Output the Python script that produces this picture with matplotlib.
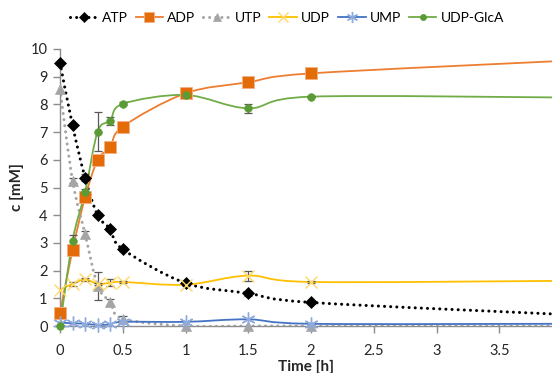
import matplotlib
matplotlib.use("Agg")
import matplotlib.pyplot as plt
import numpy as np
from matplotlib.path import Path
from matplotlib.patches import PathPatch
from matplotlib.lines import Line2D

plt.rcParams['font.family'] = ['Lato', 'DejaVu Sans']

time_h = [0, 0.1, 0.2, 0.3, 0.4, 0.5, 1, 1.5, 2, 4]
ATP = [9.5, 7.24, 5.35, 4.0, 3.5, 2.77, 1.55, 1.18, 0.85, 0.42]
ADP = [0.48, 2.75, 4.64, 6.0, 6.45, 7.2, 8.4, 8.8, 9.12, 9.57]
UTP = [8.55, 5.25, 3.32, 1.45, 0.87, 0.26, 0.0, 0.0, 0.0, 0.0]
UDP = [1.31, 1.52, 1.68, 1.52, 1.56, 1.59, 1.49, 1.82, 1.59, 1.63]
UMP = [0.12, 0.1, 0.08, 0.04, 0.06, 0.15, 0.15, 0.24, 0.08, 0.08]
UDPGlcA = [0.0, 3.08, 4.84, 7.02, 7.41, 8.02, 8.34, 7.86, 8.28, 8.25]

ATP_err = [0, 0, 0.12, 0.08, 0.08, 0.08, 0.05, 0.1, 0.05, 0]
ADP_err = [0, 0, 0, 0, 0, 0, 0, 0, 0, 0]
UTP_err = [0, 0.1, 0.12, 0.5, 0.1, 0.1, 0, 0, 0, 0]
UDP_err = [0, 0.08, 0.05, 0.05, 0.12, 0.05, 0.03, 0.18, 0.03, 0]
UMP_err = [0, 0, 0, 0, 0, 0, 0, 0, 0, 0]
UDPGlcA_err = [0, 0.2, 0.1, 0.7, 0.15, 0.05, 0.05, 0.17, 0.03, 0]

DOT = (0, (0.01, 2.0))
series = [
    ("ATP", ATP, ATP_err, dict(color="black", ls=DOT, lw=2.2, marker="D", ms=6.5, mfc="black", mec="black", mew=0.5)),
    ("ADP", ADP, ADP_err, dict(color="#ED7D31", ls="-", lw=1.3, marker="s", ms=8.5, mfc="#E36C09", mec="#F4B183", mew=0.6)),
    ("UTP", UTP, UTP_err, dict(color="#A5A5A5", ls=DOT, lw=2.2, marker="^", ms=7.5, mfc="#A5A5A5", mec="#A5A5A5", mew=0.5)),
    ("UDP", UDP, UDP_err, dict(color="#FFC000", ls="-", lw=1.3, marker="x", ms=9, mfc="none", mec="#FFD966", mew=1.0)),
    ("UMP", UMP, UMP_err, dict(color="#4472C4", ls="-", lw=1.3, marker=(6, 2, 0), ms=10, mfc="none", mec="#8FAADC", mew=1.0)),
    ("UDP-GlcA", UDPGlcA, UDPGlcA_err, dict(color="#70AD47", ls="-", lw=1.3, marker="o", ms=5.5, mfc="#5B9B35", mec="#5B9B35", mew=0.5)),
]

fig = plt.figure(figsize=(5.52, 3.73), dpi=100)
ax = fig.add_axes([60/552, 1-326/373, 1-60/552, (326-49)/373])


def smooth_path(x, y):
    x = np.asarray(x, float); y = np.asarray(y, float)
    n = len(x)
    verts = [(x[0], y[0])]
    codes = [Path.MOVETO]
    for i in range(n-1):
        p0 = np.array([x[max(i-1, 0)], y[max(i-1, 0)]])
        p1 = np.array([x[i], y[i]])
        p2 = np.array([x[i+1], y[i+1]])
        p3 = np.array([x[min(i+2, n-1)], y[min(i+2, n-1)]])
        c1 = p1 + (p2 - p0) / 6.0
        c2 = p2 - (p3 - p1) / 6.0
        verts += [tuple(c1), tuple(c2), tuple(p2)]
        codes += [Path.CURVE4] * 3
    return Path(verts, codes)


handles = []
for name, vals, err, st in series:
    path = smooth_path(time_h, vals)
    patch = PathPatch(path, facecolor="none", edgecolor=st["color"], lw=st["lw"],
                      linestyle=st["ls"], capstyle="round", zorder=2)
    ax.add_patch(patch)
    e = np.array(err)
    mask = e > 0
    if mask.any():
        ax.errorbar(np.array(time_h)[mask], np.array(vals)[mask], yerr=e[mask], fmt="none",
                    ecolor="#595959", elinewidth=0.9, capsize=3, capthick=0.9, zorder=3)
    ax.plot(time_h, vals, ls="none", marker=st["marker"], ms=st["ms"], mfc=st["mfc"],
            mec=st["mec"], mew=st["mew"], zorder=4, clip_on=False)
    h = Line2D([], [], color=st["color"], ls=st["ls"], lw=st["lw"], marker=st["marker"],
               ms=st["ms"]*0.8, mfc=st["mfc"], mec=st["mec"], mew=st["mew"],
               dash_capstyle="round")
    handles.append((h, name))

ax.set_xlim(0, 3.92)
ax.set_ylim(0, 10)
ax.set_xticks([0, 0.5, 1, 1.5, 2, 2.5, 3, 3.5])
ax.set_xticklabels(["0", "0.5", "1", "1.5", "2", "2.5", "3", "3.5"])
ax.set_yticks(range(0, 11))
for s in ["top", "right"]:
    ax.spines[s].set_visible(False)
for s in ["left", "bottom"]:
    ax.spines[s].set_color("#8C8C8C")
    ax.spines[s].set_linewidth(1.0)
ax.tick_params(axis="both", colors="#8C8C8C", labelcolor="#262626", labelsize=10.5, length=5, width=1.0)
ax.tick_params(axis="y", pad=4)
ax.tick_params(axis="x", pad=8)
ax.set_xlabel("Time [h]", fontsize=11, fontweight="bold", color="#262626", labelpad=1)
ax.set_ylabel("c [mM]", fontsize=11, fontweight="bold", color="#262626", labelpad=5)

fig.legend([h for h, _ in handles], [n for _, n in handles], loc="center",
           bbox_to_anchor=(0.52, 1-18/373), ncol=6, frameon=False, fontsize=10,
           handlelength=2.0, handletextpad=0.3, columnspacing=0.55, borderaxespad=0)

fig.savefig("out.png", dpi=100)
